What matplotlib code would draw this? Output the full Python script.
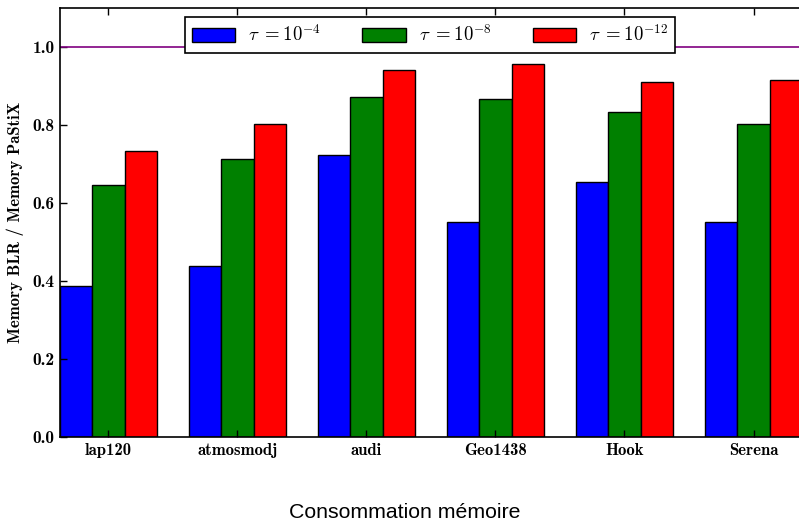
import numpy as np
import matplotlib
matplotlib.use("Agg")
import matplotlib.pyplot as plt

plt.rcParams['mathtext.fontset'] = 'cm'
plt.rcParams['axes.unicode_minus'] = False

matrices = ['lap120', 'atmosmodj', 'audi', 'Geo1438', 'Hook', 'Serena']
tau_labels = [r'$\tau\ {=}10^{-4}$', r'$\tau\ {=}10^{-8}$', r'$\tau\ {=}10^{-12}$']
mem_1e4 = [0.387, 0.438, 0.723, 0.551, 0.654, 0.551]
mem_1e8 = [0.646, 0.713, 0.872, 0.867, 0.833, 0.803]
mem_1e12 = [0.733, 0.803, 0.941, 0.956, 0.910, 0.916]
colors = ['blue', 'green', 'red']

fig = plt.figure(figsize=(7.99, 5.21), dpi=100)
ax = fig.add_axes([0.0751, 0.1612, 0.9487, 0.8234])

x = np.arange(len(matrices))
width = 0.25
for k, vals in enumerate([mem_1e4, mem_1e8, mem_1e12]):
    ax.bar(x + (k - 1) * width, vals, width, color=colors[k],
           edgecolor='black', linewidth=1.0, label=tau_labels[k])

# reference line at ratio 1
ax.axhline(1.0, color='purple', linewidth=1.2)

ax.set_xlim(-0.375, 5.5)
ax.set_ylim(0, 1.1)
ax.set_xticks(x)
ax.set_xticklabels(matrices, fontfamily='cmb10', fontsize=12)
ax.set_yticks([0.0, 0.2, 0.4, 0.6, 0.8, 1.0])
ax.set_yticklabels(['0.0', '0.2', '0.4', '0.6', '0.8', '1.0'], fontfamily='cmb10', fontsize=12.5)
ax.tick_params(direction='in', top=True, right=True, length=5, width=1, pad=4)
ax.tick_params(axis='y', pad=4)
for s in ax.spines.values():
    s.set_linewidth(1.2)

ax.set_ylabel('Memory BLR / Memory PaStiX', fontfamily='cmb10', fontsize=12, labelpad=6)

leg = ax.legend(loc='upper center', ncol=3, bbox_to_anchor=(430 / 799, 1 - 17 / 521),
                bbox_transform=fig.transFigure, fancybox=False, framealpha=1,
                edgecolor='black', prop={'size': 13.5}, handlelength=2.3,
                handleheight=0.85, handletextpad=0.7, columnspacing=2.2,
                borderpad=0.4, borderaxespad=0)
leg.get_frame().set_linewidth(1.2)

fig.text(405 / 799, 1 - 512 / 521, 'Consommation mémoire', ha='center', va='center',
         fontfamily='Liberation Sans', fontsize=15.3)

fig.savefig('out.png', dpi=100)
